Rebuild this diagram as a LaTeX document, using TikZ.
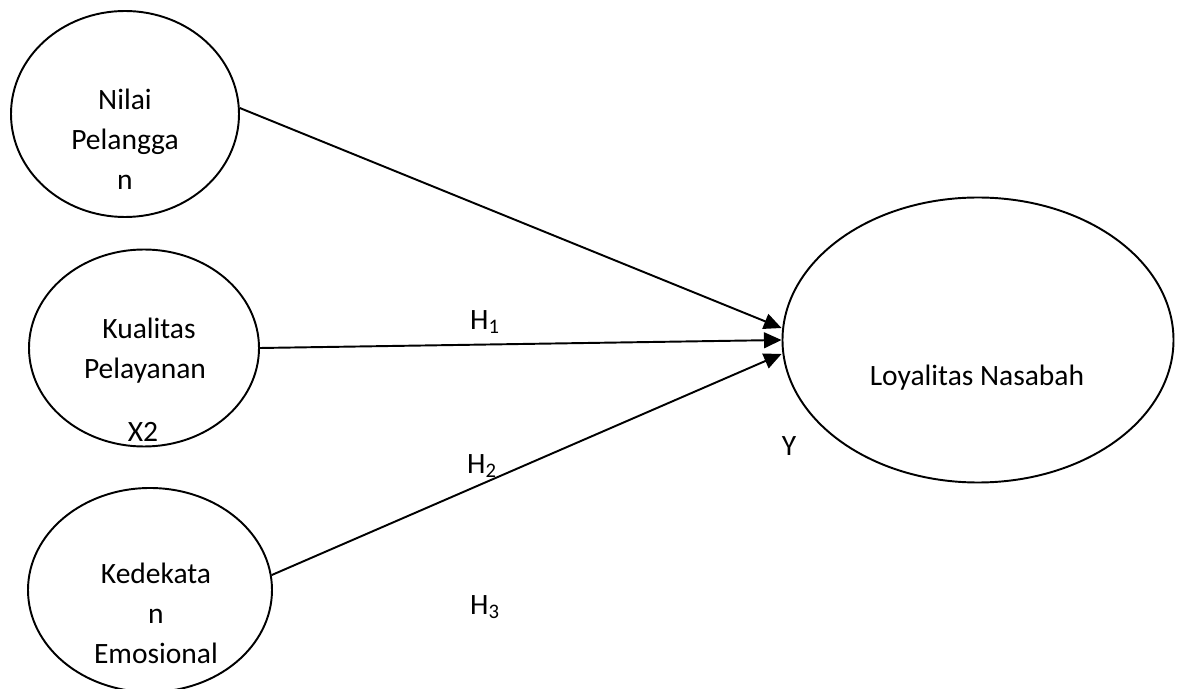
\documentclass[tikz,border=0pt]{standalone}
\usepackage{fontspec}
\setmainfont{Carlito}
\usetikzlibrary{arrows.meta, shapes.geometric}

\tikzset{
    var/.style={draw, ellipse, line width=1.1pt, inner sep=0pt},
    txt/.style={align=center, font=\fontsize{16.8}{22.8}\selectfont},
    link/.style={line width=1.1pt, -{Triangle[length=10pt, width=9pt]}}
}

\begin{document}
\begin{tikzpicture}[x=0.02cm, y=-0.02cm]
    \useasboundingbox (0,0) rectangle (1178,689);

    %variables
    \node[var, minimum width=228*0.02cm, minimum height=206*0.02cm] (ni) at (125,114) {};
    \node[var, minimum width=230*0.02cm, minimum height=197*0.02cm] (kp) at (144,348) {};
    \node[var, minimum width=244*0.02cm, minimum height=204*0.02cm] (ke) at (150,590) {};
    \node[var, minimum width=391*0.02cm, minimum height=285*0.02cm] (lo) at (978,340) {};

    %texts
    \node[txt] (tni) at (125,139) {Nilai\\Pelangga\\n};
    \node[txt] (tkp1) at (149,328) {Kualitas};
    \node[txt] (tkp2) at (145,371) {Pelayanan};
    \node[txt] (tx2) at (143,432) {X2};
    \node[txt] (tke) at (156,613) {Kedekata\\n\\Emosional};
    \node[txt] (tlo) at (977,378) {Loyalitas Nasabah};
    \node[txt] (ty) at (789,446) {Y};

    %arrows
    \draw[link] (ni.3) -- ([yshift=12*0.02cm]lo.west);
    \draw[link] (kp.east) -- (lo.west);
    \draw[link] (ke.7) -- ([yshift=-14*0.02cm]lo.west);

    %labels
    \node[txt] (h1) at (485,322) {H\textsubscript{1}};
    \node[txt] (h2) at (482,466) {H\textsubscript{2}};
    \node[txt] (h3) at (485,607) {H\textsubscript{3}};
\end{tikzpicture}
\end{document}
